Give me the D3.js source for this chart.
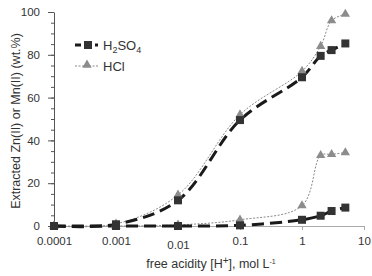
<!DOCTYPE html>
<html lang="en">
    <head>
        <meta charset="utf-8">
        <title>Extraction vs free acidity</title>
        <script src="https://cdn.jsdelivr.net/npm/d3@7"></script>
        <style>
            body { margin: 0; background: #fff; }
            text { font-family: "Liberation Sans", Arial, sans-serif; fill: #333; }
        </style>
    </head>
    <body>
        <script>
            // acid concentrations, mol/L
            var acidity = [0.0001, 0.001, 0.01, 0.1, 1, 2, 3, 5];

            // extraction, wt.%  (upper = Zn(II), lower = Mn(II))
            var h2so4Upper = [0, 0.8, 12, 49.5, 69.5, 79.5, 82.2, 85.3];
            var hclUpper   = [0, 1, 14.5, 52, 72.3, 84, 96, 99];
            var h2so4Lower = [0, 0, 0, 0.3, 2.9, 4.8, 7, 8.6];
            var hclLower   = [0, 0, 0.5, 2.9, 9.5, 33, 33.5, 34.3];

            var xTicks = [0.0001, 0.001, 0.01, 0.1, 1, 10];
            var xTickLabels = ["0.0001", "0.001", "0.01", "0.1", "1", "10"];
            var yTicks = [0, 20, 40, 60, 80, 100];

            var w = 372, h = 276;
            var mLeft = 54, mRight = 364, mTop = 12, mBottom = 226;

            var svg = d3.select("body").append("svg")
                .attr("width", w)
                .attr("height", h);

            var x = d3.scaleLog().domain([0.0001, 10]).range([mLeft, mRight]);
            var y = d3.scaleLinear().domain([0, 100]).range([mBottom, mTop]);

            // y axis with minor ticks
            var yMinor = d3.range(0, 101, 5);
            svg.append("g")
                .attr("transform", "translate(" + mLeft + ",0)")
                .call(d3.axisLeft(y).tickValues(yMinor).tickSize(3).tickFormat(""))
                .call(function(g){ g.select(".domain").remove(); g.selectAll("line").attr("stroke", "#555"); });
            var yAxis = svg.append("g")
                .attr("transform", "translate(" + mLeft + ",0)")
                .call(d3.axisLeft(y).tickValues(yTicks).tickSize(6).tickSizeOuter(0).tickPadding(8));
            yAxis.select(".domain").attr("stroke", "#555");
            yAxis.selectAll("line").attr("stroke", "#555");
            yAxis.selectAll("text").attr("font-size", "11.5px").attr("fill", "#333")
                .style("font-family", "Liberation Sans, Arial, sans-serif");

            // x axis
            var xAxis = svg.append("g")
                .attr("transform", "translate(0," + mBottom + ")")
                .call(d3.axisBottom(x).tickValues(xTicks).tickSize(4).tickSizeOuter(0).tickPadding(7)
                    .tickFormat(function(d, i){ return xTickLabels[i]; }));
            xAxis.select(".domain").attr("stroke", "#aaa");
            xAxis.selectAll("line").attr("stroke", "#aaa");
            xAxis.selectAll("text").attr("font-size", "11.5px").attr("fill", "#333")
                .style("font-family", "Liberation Sans, Arial, sans-serif")
                .attr("dy", function(d){ return d === 0.01 ? "1.05em" : "0.71em"; });

            // lines
            var line = d3.line()
                .x(function(d){ return x(d[0]); })
                .y(function(d){ return y(d[1]); })
                .curve(d3.curveCatmullRom.alpha(0.5));

            function pairs(vals){
                return acidity.map(function(a, i){ return [a, vals[i]]; });
            }

            var hclSeries = [hclUpper, hclLower];
            var h2so4Series = [h2so4Upper, h2so4Lower];

            hclSeries.forEach(function(s){
                svg.append("path")
                    .datum(pairs(s))
                    .attr("d", line)
                    .attr("fill", "none")
                    .attr("stroke", "#8a8a8a")
                    .attr("stroke-width", 1)
                    .attr("stroke-dasharray", "2,1.5");
            });

            h2so4Series.forEach(function(s){
                svg.append("path")
                    .datum(pairs(s))
                    .attr("d", line)
                    .attr("fill", "none")
                    .attr("stroke", "#1a1a1a")
                    .attr("stroke-width", 3)
                    .attr("stroke-dasharray", "12,6");
            });

            var tri = d3.symbol().type(d3.symbolTriangle).size(38);

            hclSeries.forEach(function(s){
                svg.selectAll(null)
                    .data(pairs(s))
                    .enter()
                    .append("path")
                    .attr("d", tri)
                    .attr("transform", function(d){ return "translate(" + x(d[0]) + "," + y(d[1]) + ")"; })
                    .attr("fill", "#8c8c8c");
            });

            h2so4Series.forEach(function(s){
                svg.selectAll(null)
                    .data(pairs(s))
                    .enter()
                    .append("rect")
                    .attr("x", function(d){ return x(d[0]) - 4; })
                    .attr("y", function(d){ return y(d[1]) - 4; })
                    .attr("width", 8)
                    .attr("height", 8)
                    .attr("fill", "#333");
            });

            // legend
            var lg = svg.append("g");
            lg.append("line").attr("x1", 75).attr("x2", 98).attr("y1", 45).attr("y2", 45)
                .attr("stroke", "#1a1a1a").attr("stroke-width", 3).attr("stroke-dasharray", "6,4");
            lg.append("rect").attr("x", 84).attr("y", 41).attr("width", 8).attr("height", 8).attr("fill", "#333");
            var t1 = lg.append("text").attr("x", 103).attr("y", 50).attr("font-size", "13px");
            t1.append("tspan").text("H");
            t1.append("tspan").text("2").attr("font-size", "9px").attr("dy", 3);
            t1.append("tspan").text("SO").attr("dy", -3);
            t1.append("tspan").text("4").attr("font-size", "9px").attr("dy", 3);

            lg.append("line").attr("x1", 75).attr("x2", 98).attr("y1", 66).attr("y2", 66)
                .attr("stroke", "#888").attr("stroke-width", 1).attr("stroke-dasharray", "2,1.5");
            lg.append("path").attr("d", tri).attr("transform", "translate(87,65)").attr("fill", "#8c8c8c");
            lg.append("text").attr("x", 103).attr("y", 71).attr("font-size", "13px").text("HCl");

            // axis titles
            var xt = svg.append("text")
                .attr("x", 211).attr("y", 268)
                .attr("text-anchor", "middle")
                .attr("font-size", "12.5px");
            xt.append("tspan").text("free acidity [H");
            xt.append("tspan").text("+").attr("font-size", "10px").attr("dy", -4);
            xt.append("tspan").text("], mol L").attr("dy", 4);
            xt.append("tspan").text("-1").attr("font-size", "7px").attr("dy", -4);

            svg.append("text")
                .attr("transform", "translate(20,121) rotate(-90)")
                .attr("text-anchor", "middle")
                .attr("font-size", "12.5px")
                .text("Extracted Zn(II) or Mn(II) (wt.%)");
        </script>
    </body>
</html>
